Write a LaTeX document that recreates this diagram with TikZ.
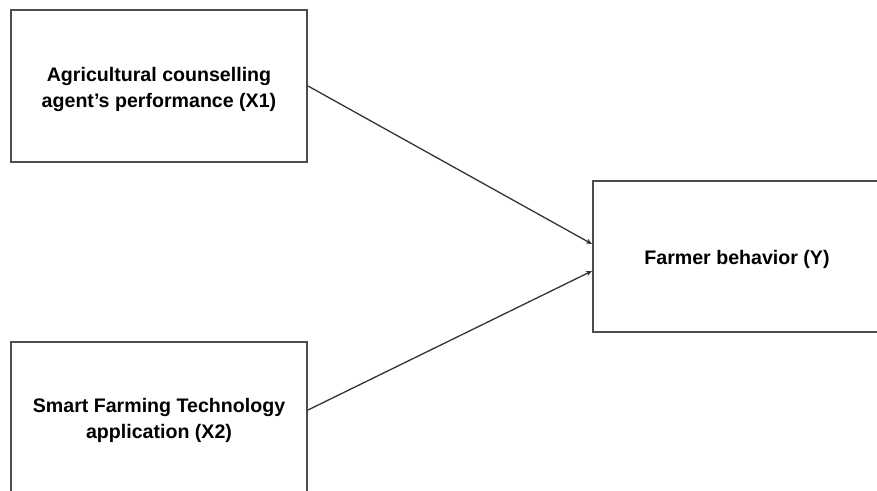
\documentclass[tikz,border=0pt]{standalone}
\usepackage{fontspec}
\setmainfont{Liberation Sans}
\usepackage{tikz}
\usetikzlibrary{arrows.meta, positioning}

\begin{document}
\begin{tikzpicture}[
    x=0.5pt, y=-0.5pt,
    box/.style={rectangle, draw=black!70, line width=1pt, minimum width=148pt, minimum height=76pt, inner sep=0pt},
    boxtext/.style={align=center, font=\bfseries\fontsize{9.8}{13}\selectfont, inner sep=0pt},
    arrow/.style={-{Stealth[length=3pt, width=2.6pt]}, line width=0.65pt, draw=black!80}
]
    \useasboundingbox (0,0) rectangle (877,491);
    \clip (0,0) rectangle (877,491);

    % independent variables
    \node[box] (perf) at (159,86) {};
    \node[boxtext] (perftext) at ([yshift=-1.5pt]perf.center) {Agricultural counselling\\agent's performance (X1)};
    \node[box] (tech) at (159,418) {};
    \node[boxtext] (techtext) at ([yshift=-1pt]tech.center) {Smart Farming Technology\\application (X2)};

    % dependent variable
    \node[box, minimum width=144pt, minimum height=75.5pt] (behav) at (737,256.5) {};
    \node[boxtext] (behavtext) at ([yshift=-1.5pt]behav.center) {Farmer behavior (Y)};

    % arrows
    \draw[arrow] (perf.east) -- ([yshift=6.25pt]behav.west);
    \draw[arrow] ([yshift=4pt]tech.east) -- ([yshift=-7.25pt]behav.west);
\end{tikzpicture}
\end{document}
